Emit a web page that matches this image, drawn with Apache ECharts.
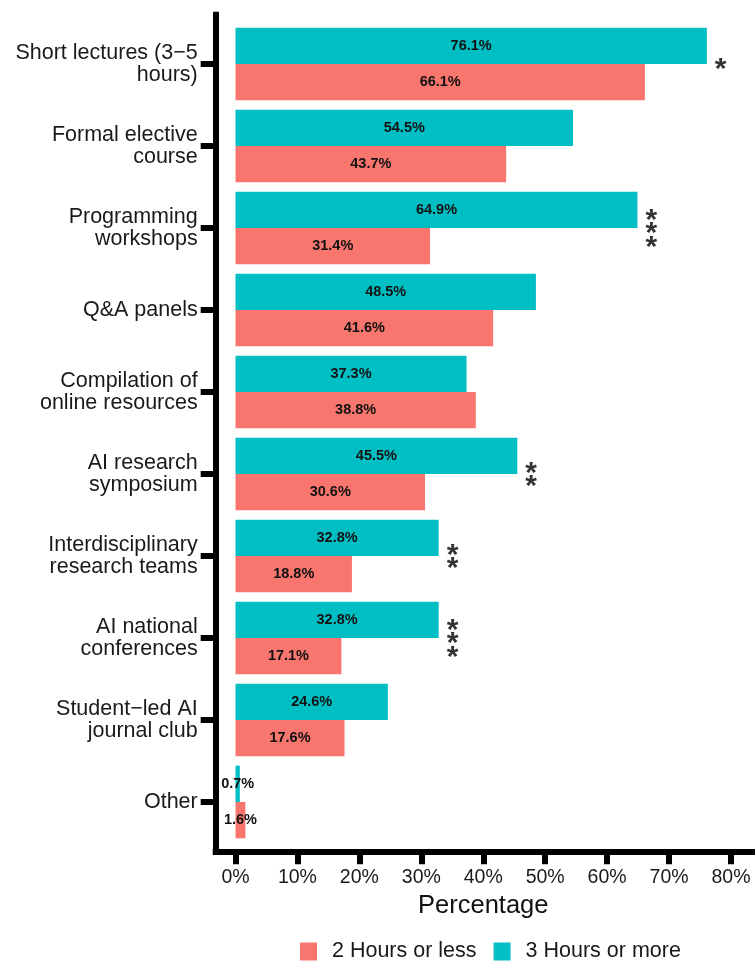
<!DOCTYPE html>
<html>
<head>
<meta charset="utf-8">
<script src="https://cdn.jsdelivr.net/npm/echarts@6/dist/echarts.min.js"></script>
<style>
  html, body { margin: 0; padding: 0; background: #fff; }
  #chart { width: 755px; height: 961px; }
</style>
</head>
<body>
<div id="chart"></div>
<script>
const categories = [
  'Short lectures (3\u22125\nhours)',
  'Formal elective\ncourse',
  'Programming\nworkshops',
  'Q&A panels',
  'Compilation of\nonline resources',
  'AI research\nsymposium',
  'Interdisciplinary\nresearch teams',
  'AI national\nconferences',
  'Student\u2212led AI\njournal club',
  'Other'
];
const moreHours = [76.1, 54.5, 64.9, 48.5, 37.3, 45.5, 32.8, 32.8, 24.6, 0.7];
const lessHours = [66.1, 43.7, 31.4, 41.6, 38.8, 30.6, 18.8, 17.1, 17.6, 1.6];
const significance = ['*', '', '***', '', '', '**', '**', '***', '', ''];
const seriesNames = ['2 Hours or less', '3 Hours or more'];
const xMin = 0, xMax = 80, xStep = 10;

const starData = [];
significance.forEach((s, i) => { if (s) starData.push([moreHours[i], categories[i], s]); });

const chart = echarts.init(document.getElementById('chart'), null, { renderer: 'canvas' });
const FONT = '"Liberation Sans", Arial, Helvetica, sans-serif';
const pct = p => p.value.toFixed(1) + '%';
const hiddenValue = (g) => ({ gridIndex: g, type: 'value', min: 0, max: 1, show: false });

chart.setOption({
  animation: false,
  backgroundColor: '#fff',
  textStyle: { fontFamily: FONT },
  grid: [
    { left: 215.7, right: 0, top: 14.7, bottom: 109.3 },   // frame
    { left: 215.7, right: 24, top: 23, bottom: 118 },      // category labels
    { left: 235.5, right: 24, top: 23, bottom: 118 },      // bars
    { left: 235.5, right: 24, top: 23, bottom: 109.3 }     // x axis
  ],
  xAxis: [
    {
      gridIndex: 0, type: 'value', min: 0, max: 1,
      axisLine: { show: true, onZero: false, lineStyle: { color: '#000', width: 6, cap: 'square' } },
      axisTick: { show: false }, axisLabel: { show: false }, splitLine: { show: false }
    },
    hiddenValue(1),
    { gridIndex: 2, type: 'value', min: xMin, max: xMax, interval: xStep, show: false },
    {
      gridIndex: 3, type: 'value', min: xMin, max: xMax, interval: xStep,
      axisLine: { show: false, onZero: false },
      axisTick: { show: true, length: 12.6, lineStyle: { color: '#000', width: 6 } },
      axisLabel: { formatter: '{value}%', fontSize: 19.5, color: '#1a1a1a', margin: 16, fontFamily: FONT },
      splitLine: { show: false },
      name: 'Percentage', nameLocation: 'middle', nameGap: 36,
      nameTextStyle: { fontSize: 25.5, color: '#111', fontFamily: FONT }
    }
  ],
  yAxis: [
    {
      gridIndex: 0, type: 'value', min: 0, max: 1,
      axisLine: { show: true, onZero: false, lineStyle: { color: '#000', width: 6, cap: 'square' } },
      axisTick: { show: false }, axisLabel: { show: false }, splitLine: { show: false }
    },
    {
      gridIndex: 1, type: 'category', data: categories, inverse: true,
      axisLine: { show: false, onZero: false },
      axisTick: { show: true, alignWithLabel: true, length: 15, lineStyle: { color: '#000', width: 6 } },
      axisLabel: { fontSize: 21.5, lineHeight: 22, margin: 18, color: '#1a1a1a', fontFamily: FONT, padding: [4, 0, 0, 0] },
      splitLine: { show: false }
    },
    { gridIndex: 2, type: 'category', data: categories, inverse: true, show: false },
    hiddenValue(3)
  ],
  legend: {
    data: seriesNames,
    left: 300, top: 940.5, padding: 0,
    itemWidth: 17, itemHeight: 18, itemGap: 17, icon: 'rect',
    textStyle: { fontSize: 21.5, color: '#1a1a1a', fontFamily: FONT, padding: [0, 0, 0, 10] }
  },
  series: [
    {
      name: seriesNames[1], type: 'bar', xAxisIndex: 2, yAxisIndex: 2,
      data: moreHours, barWidth: 36.3, barGap: '0%',
      itemStyle: { color: '#00BFC4' },
      label: { show: true, position: 'inside', formatter: pct, fontWeight: 'bold', fontSize: 14.5, color: '#111', fontFamily: FONT, textBorderWidth: 0 }
    },
    {
      name: seriesNames[0], type: 'bar', xAxisIndex: 2, yAxisIndex: 2,
      data: lessHours, barWidth: 36.3, barGap: '0%',
      itemStyle: { color: '#F8766D' },
      label: { show: true, position: 'inside', formatter: pct, fontWeight: 'bold', fontSize: 14.5, color: '#111', fontFamily: FONT, textBorderWidth: 0 }
    },
    {
      name: 'significance', type: 'scatter', xAxisIndex: 2, yAxisIndex: 2,
      data: starData, symbolSize: 0, silent: true, z: 10,
      label: {
        show: true, position: 'right', distance: 8,
        formatter: p => p.data[2].split('').join('\n'),
        fontSize: 30, fontWeight: 'bold', lineHeight: 13.5, color: '#000', fontFamily: FONT, offset: [0, 6]
      }
    }
  ]
});
</script>
</body>
</html>
